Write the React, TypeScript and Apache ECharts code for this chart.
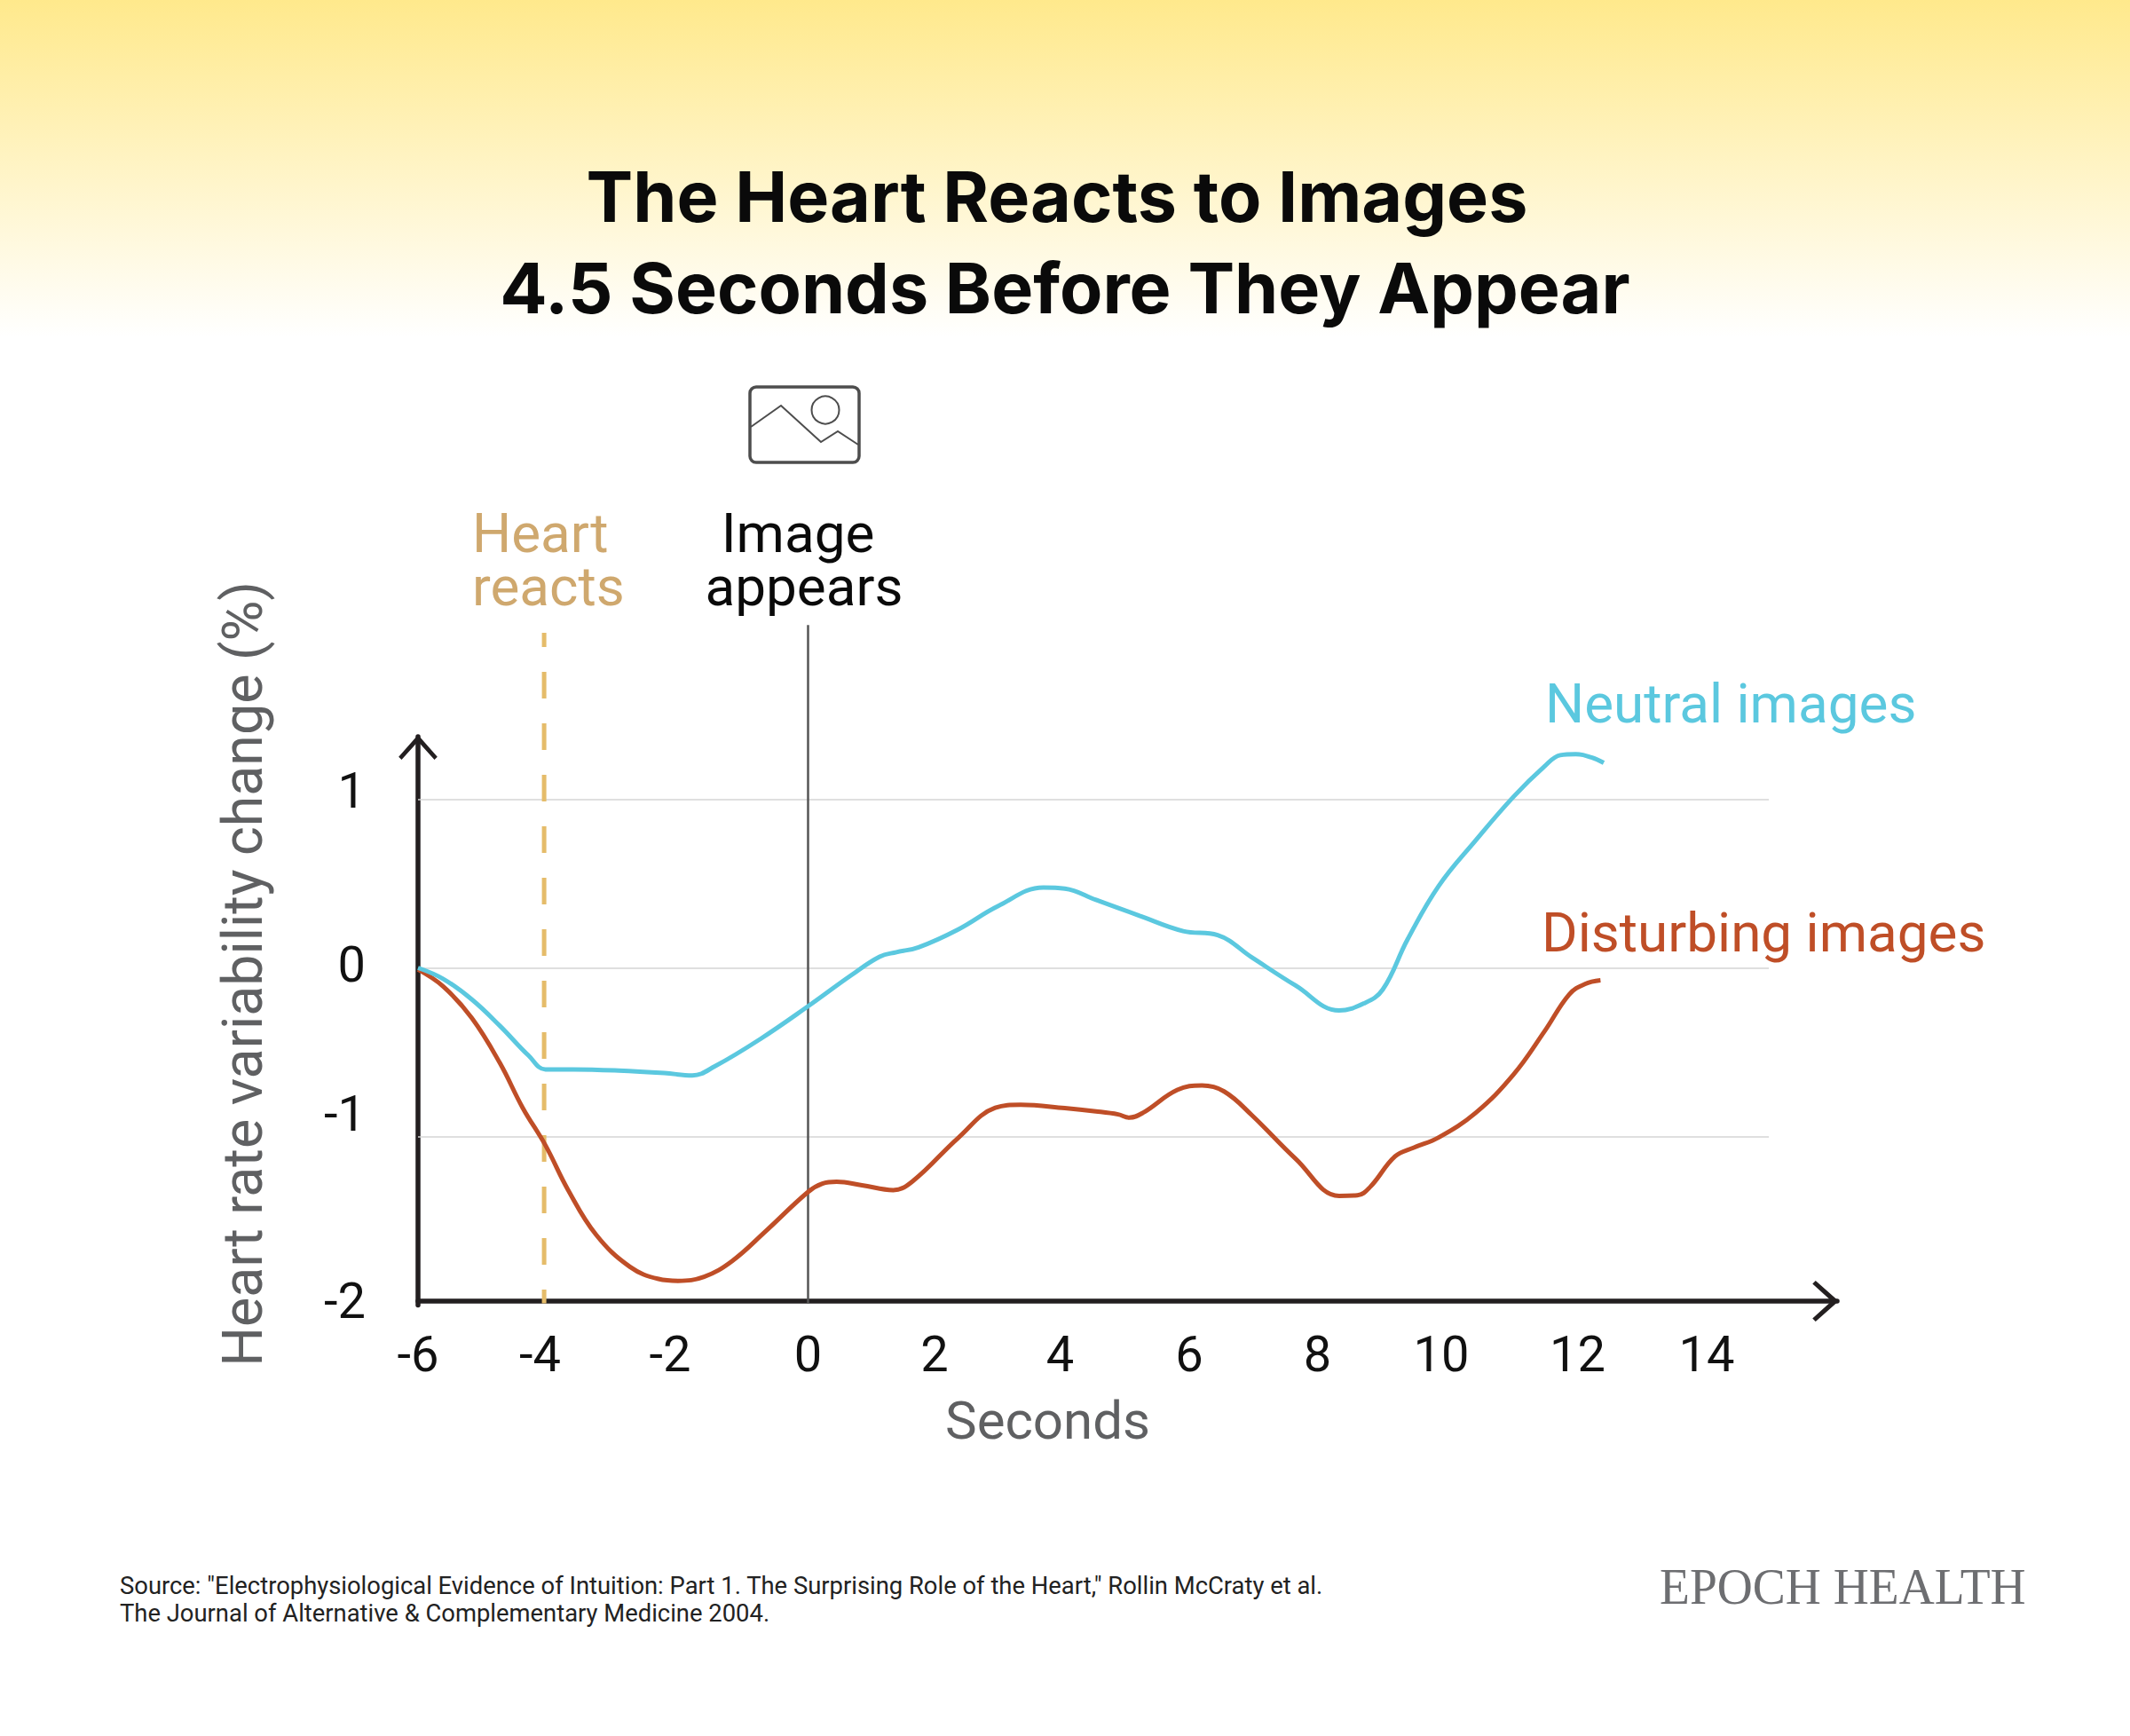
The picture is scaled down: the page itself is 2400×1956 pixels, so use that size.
import React, { useEffect, useRef } from "react";
import * as echarts from "echarts";

const xTicks = [-6, -4, -2, 0, 2, 4, 6, 8, 10, 12, 14];
const yTicks = [-2, -1, 0, 1];
const gridValues = [1, 0, -1];

const neutralImages = [
  [-6, 0], [-5.61, -0.066], [-5.17, -0.188], [-4.74, -0.344], [-4.3, -0.52], [-4.04, -0.602],
  [-3.61, -0.602], [-2.91, -0.609], [-2.21, -0.624], [-1.78, -0.638], [-1.43, -0.583], [-0.73, -0.421],
  [0, -0.228], [0.66, -0.045], [1.1, 0.066], [1.36, 0.093], [1.7, 0.122], [2.31, 0.228], [2.92, 0.366],
  [3.62, 0.476], [3.95, 0.47], [4.43, 0.403], [5.1, 0.309], [5.77, 0.218], [6.3, 0.194], [6.83, 0.061],
  [7.5, -0.105], [8.17, -0.253], [8.55, -0.211], [8.84, -0.129], [9.22, 0.167], [9.7, 0.485], [10.27, 0.756],
  [10.85, 1.014], [11.33, 1.195], [11.57, 1.261], [11.81, 1.267], [12.05, 1.248], [12.24, 1.216],
];

const disturbingImages = [
  [-6, -0.01], [-5.61, -0.111], [-5.17, -0.299], [-4.74, -0.565], [-4.39, -0.83], [-4.04, -1.052],
  [-3.69, -1.318], [-3.26, -1.583], [-2.74, -1.773], [-2.3, -1.845], [-2.0, -1.856], [-1.6, -1.832],
  [-1.17, -1.739], [-0.65, -1.561], [0, -1.329], [0.22, -1.28], [0.44, -1.269], [0.83, -1.289],
  [1.31, -1.318], [1.62, -1.262], [2.31, -1.008], [2.88, -0.83], [3.27, -0.812], [3.95, -0.832],
  [4.43, -0.851], [4.77, -0.869], [4.94, -0.888], [5.15, -0.86], [5.68, -0.724], [6.06, -0.698],
  [6.4, -0.733], [6.83, -0.875], [7.5, -1.132], [8.17, -1.352], [8.45, -1.349], [8.65, -1.298],
  [9.03, -1.118], [9.32, -1.066], [9.7, -1.006], [10.27, -0.86], [10.85, -0.634], [11.33, -0.376],
  [11.71, -0.157], [11.95, -0.096], [12.19, -0.074],
];

const imageAppears = [[0, 2.032], [0, -1.992]];
const heartReacts = [[-4.06, 1.987], [-4.06, -1.99]];

// nudges of the printed tick labels, which sit slightly off their ticks in the original
const xLabelNudge: Record<number, number> = { [-6]: 0, [-4]: 9, [-2]: 9, 0: 0, 2: 4, 4: 9, 6: 10, 8: 12, 10: 19, 12: 12, 14: 13 };
const yLabelNudge: Record<number, number> = { [-2]: 4.5, [-1]: 25, 0: 3, 1: 9.5 };

const FONT = "Roboto";
const chevron = "path://M23 0 L46 26 L42.5 29.5 L23 8 L3.5 29.5 L0 26 Z";
const gridBase = { left: 471, right: 330, bottom: 485.5 };
const xMin = -6;
const xMax = 15.83;

const key = (v: number) => "n" + String(v).replace("-", "m");
const tickStyle = { fontFamily: FONT, fontSize: 56, color: "#111111", fontWeight: 400 };

const xRich: any = {};
xTicks.forEach((v) => {
  xRich[key(v)] = { ...tickStyle, padding: [0, 2 * xLabelNudge[v], 0, 0] };
});
const yRich: any = {};
yTicks.forEach((v) => {
  yRich[key(v)] = { ...tickStyle, padding: [0, 0, 2 * yLabelNudge[v], 0] };
});

const titleStyle = { fontFamily: "Inter", fontSize: 79, fontWeight: 700, color: "#0a0a0a" };
const labelFont = `400 62px ${FONT}`;

export default function App() {
  const ref = useRef<HTMLDivElement>(null);
  useEffect(() => {
    const chart = echarts.init(ref.current!, undefined, { renderer: "svg" });
    chart.setOption({
      animation: false,
      backgroundColor: "#ffffff",
      title: [
        { text: "The Heart Reacts to Images", left: 1186, top: 176, textAlign: "center", textStyle: titleStyle },
        { text: "4.5 Seconds Before They Appear", left: 1195, top: 279, textAlign: "center", textStyle: titleStyle },
      ],
      grid: [
        { ...gridBase, top: 830 },
        { ...gridBase, top: 700 },
      ],
      xAxis: [
        {
          type: "value",
          gridIndex: 0,
          min: xMin,
          max: xMax,
          offset: -4.5,
          name: "Seconds",
          nameLocation: "middle",
          nameGap: 104,
          nameTextStyle: { fontFamily: FONT, fontSize: 60, color: "#5f6062", fontWeight: 400, padding: [0, 180, 0, 0] },
          splitLine: { show: false },
          axisTick: { show: false },
          axisLine: {
            show: true,
            onZero: false,
            lineStyle: { color: "#231f20", width: 5.5 },
            symbol: ["none", chevron],
            symbolSize: [46, 30],
            symbolOffset: [0, -13],
          },
          axisLabel: {
            show: true,
            margin: 32,
            customValues: xTicks,
            formatter: (v: number) => `{${key(v)}|${v}}`,
            rich: xRich,
          },
        },
        { type: "value", gridIndex: 1, min: xMin, max: xMax, show: false },
      ],
      yAxis: [
        {
          type: "value",
          gridIndex: 0,
          min: -2,
          max: 1.371,
          name: "Heart rate variability change (%)",
          nameLocation: "middle",
          nameGap: 166,
          nameRotate: 90,
          nameTextStyle: { fontFamily: FONT, fontSize: 62.7, color: "#5f6062", fontWeight: 400, padding: [0, 0, 0, 106] },
          splitLine: { show: false },
          axisTick: { show: false },
          axisLine: {
            show: true,
            onZero: false,
            lineStyle: { color: "#231f20", width: 5.5 },
            symbol: ["none", chevron],
            symbolSize: [44, 28],
            symbolOffset: [0, -12],
          },
          axisLabel: {
            show: true,
            margin: 59,
            customValues: yTicks,
            formatter: (v: number) => `{${key(v)}|${v}}`,
            rich: yRich,
          },
        },
        { type: "value", gridIndex: 1, min: -2, max: 2.055, show: false },
      ],
      series: [
        {
          name: "Image appears",
          type: "line",
          xAxisIndex: 1,
          yAxisIndex: 1,
          data: imageAppears,
          showSymbol: false,
          silent: true,
          z: 1,
          lineStyle: { color: "#555555", width: 2.5 },
        },
        {
          name: "Heart reacts",
          type: "line",
          xAxisIndex: 1,
          yAxisIndex: 1,
          data: heartReacts,
          showSymbol: false,
          silent: true,
          z: 1,
          lineStyle: { color: "#e5bc6a", width: 5, type: [30, 28], dashOffset: 14 },
        },
        {
          name: "Neutral images",
          type: "line",
          data: neutralImages,
          showSymbol: false,
          smooth: 0.4,
          z: 4,
          lineStyle: { color: "#5bc8df", width: 5 },
          markLine: {
            silent: true,
            symbol: "none",
            z: 1,
            label: { show: false },
            lineStyle: { color: "#d4d4d4", width: 1.5, type: "solid" },
            data: gridValues.map((v) => [{ coord: [-6, v] }, { coord: [14.78, v] }]),
          },
        },
        {
          name: "Disturbing images",
          type: "line",
          data: disturbingImages,
          showSymbol: false,
          smooth: 0.4,
          z: 3,
          lineStyle: { color: "#bf4e27", width: 5 },
        },
      ],
      graphic: [
        {
          type: "rect",
          silent: true,
          z: -10,
          shape: { x: 0, y: 0, width: 2400, height: 380 },
          style: {
            fill: {
              type: "linear",
              x: 0,
              y: 0,
              x2: 0,
              y2: 1,
              colorStops: [
                { offset: 0, color: "#ffe98c" },
                { offset: 1, color: "#ffffff" },
              ],
            },
          },
        },
        {
          type: "group",
          silent: true,
          children: [
            { type: "rect", shape: { x: 845, y: 436, width: 123, height: 85, r: 7 }, style: { fill: "none", stroke: "#4d4d4d", lineWidth: 3.5 } },
            { type: "polyline", shape: { points: [[846, 481], [880, 457], [925, 498], [944, 486], [967, 501]] }, style: { fill: "none", stroke: "#4d4d4d", lineWidth: 2 } },
            { type: "circle", shape: { cx: 930, cy: 462, r: 15.5 }, style: { fill: "none", stroke: "#4d4d4d", lineWidth: 2 } },
          ],
        },
        {
          type: "text",
          x: 532,
          y: 630,
          style: { text: "Heart\nreacts", font: labelFont, lineHeight: 60, fill: "#cfa86e", textVerticalAlign: "middle" },
        },
        {
          type: "text",
          x: 906,
          y: 630,
          style: {
            text: "{a|Image}\n{b|appears}",
            fill: "#0a0a0a",
            textAlign: "center",
            textVerticalAlign: "middle",
            rich: {
              a: { font: labelFont, lineHeight: 60, fill: "#0a0a0a", padding: [0, 14, 0, 0] },
              b: { font: labelFont, lineHeight: 60, fill: "#0a0a0a" },
            },
          },
        },
        { type: "text", x: 1741, y: 792, style: { text: "Neutral images", font: labelFont, fill: "#5bc8df", textVerticalAlign: "middle" } },
        { type: "text", x: 1737, y: 1050, style: { text: "Disturbing images", font: labelFont, fill: "#bf4e27", textVerticalAlign: "middle" } },
        { type: "text", x: 135, y: 1787, style: { text: "Source: \"Electrophysiological Evidence of Intuition: Part 1. The Surprising Role of the Heart,\" Rollin McCraty et al.", font: `400 27.4px ${FONT}`, fill: "#222222", textVerticalAlign: "middle" } },
        { type: "text", x: 135, y: 1818, style: { text: "The Journal of Alternative & Complementary Medicine 2004.", font: `400 27.4px ${FONT}`, fill: "#222222", textVerticalAlign: "middle" } },
        { type: "text", x: 1870, y: 1787, scaleX: 0.957, style: { text: "EPOCH HEALTH", font: "400 58px 'Liberation Serif'", fill: "#6d6e71", textVerticalAlign: "middle" } },
      ],
    });
    return () => chart.dispose();
  }, []);
  return <div ref={ref} style={{ position: "absolute", left: 0, top: 0, width: 2400, height: 1956 }} />;
}
